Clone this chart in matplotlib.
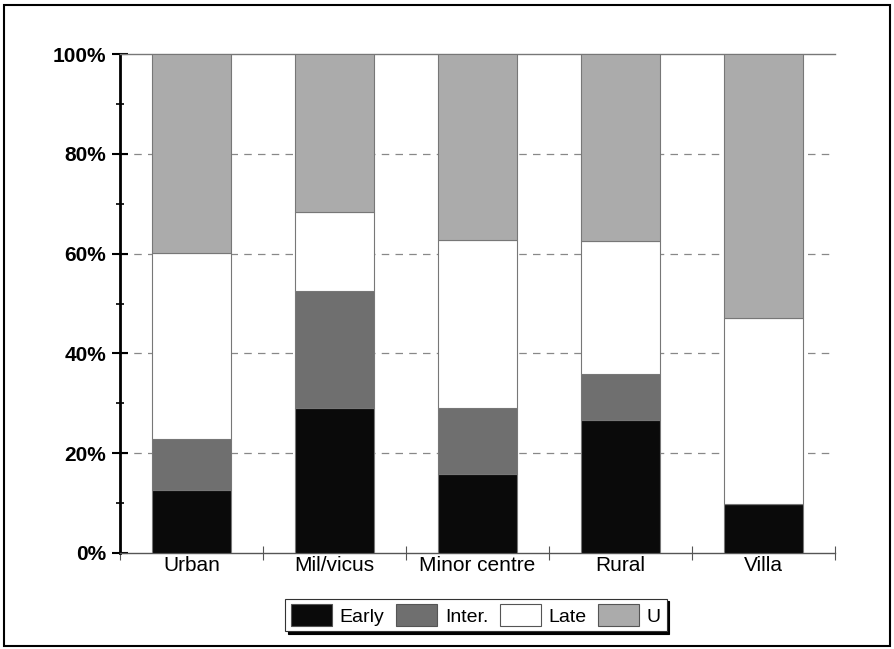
import matplotlib
matplotlib.use("Agg")
import matplotlib.pyplot as plt
from matplotlib.patches import Rectangle
import numpy as np

plt.rcParams['font.family'] = ['Liberation Sans', 'DejaVu Sans']

categories = ["Urban", "Mil/vicus", "Minor centre", "Rural", "Villa"]
early = [12.6, 29.1, 15.8, 26.7, 9.8]
inter = [10.2, 23.4, 13.3, 9.2, 0.0]
late = [37.3, 15.8, 33.6, 26.6, 37.3]
unk = [39.9, 31.7, 37.3, 37.5, 52.9]

series = [("Early", early, "#0a0a0a"),
          ("Inter.", inter, "#6f6f6f"),
          ("Late", late, "#ffffff"),
          ("U", unk, "#ababab")]

fig = plt.figure(figsize=(8.94, 6.49), dpi=100)
ax = fig.add_axes([120/894, 1-553/649, 715/894, 499/649])

x = np.arange(len(categories))
bottom = np.zeros(len(categories))
handles = []
for name, vals, col in series:
    b = ax.bar(x, vals, bottom=bottom, width=0.55, color=col,
               edgecolor="#777777", linewidth=0.8, label=name, zorder=3)
    handles.append(b)
    bottom += np.array(vals)

ax.set_xlim(-0.5, 4.5)
ax.set_ylim(0, 100)
ax.set_yticks([0, 20, 40, 60, 80, 100])
ax.set_yticklabels(["0%", "20%", "40%", "60%", "80%", "100%"],
                   fontsize=15, fontweight="bold")
ax.set_yticks(np.arange(10, 100, 20), minor=True)
ax.tick_params(axis="y", which="major", direction="inout", length=12, width=1.5, pad=4)
ax.tick_params(axis="y", which="minor", direction="inout", length=6, width=1.2)

ax.set_xticks(x)
ax.set_xticklabels(categories, fontsize=15)
ax.tick_params(axis="x", which="major", length=0, pad=2)
ax.set_xticks(np.arange(-0.5, 5.0, 1.0), minor=True)
ax.tick_params(axis="x", which="minor", direction="inout", length=10, width=0.8, color="#555555")

for yv in [20, 40, 60, 80]:
    ax.axhline(yv, color="#888888", linestyle=(0, (6, 5)), linewidth=0.9, zorder=1)

ax.spines["left"].set_linewidth(2.0)
ax.spines["left"].set_color("black")
ax.spines["bottom"].set_linewidth(1.0)
ax.spines["bottom"].set_color("#555555")
ax.spines["top"].set_linewidth(1.0)
ax.spines["top"].set_color("#777777")
ax.spines["right"].set_visible(False)

leg = fig.legend(handles=handles, labels=[s[0] for s in series],
                 loc="center", bbox_to_anchor=(476/894, 1-615/649),
                 ncol=4, frameon=True, fontsize=14, handlelength=2.1,
                 handleheight=1.3, columnspacing=0.6, handletextpad=0.4,
                 fancybox=False, shadow={'color': 'black', 'alpha': 1.0},
                 borderpad=0.3)
leg.get_frame().set_edgecolor("#333333")
leg.get_frame().set_linewidth(0.8)
for h in leg.legend_handles:
    h.set_edgecolor("#555555")

fig.patches.append(Rectangle((4/894, 3/649), 886/894, 641/649, transform=fig.transFigure,
                             fill=False, edgecolor="black", linewidth=1.5))

fig.savefig("out.png", dpi=100)
